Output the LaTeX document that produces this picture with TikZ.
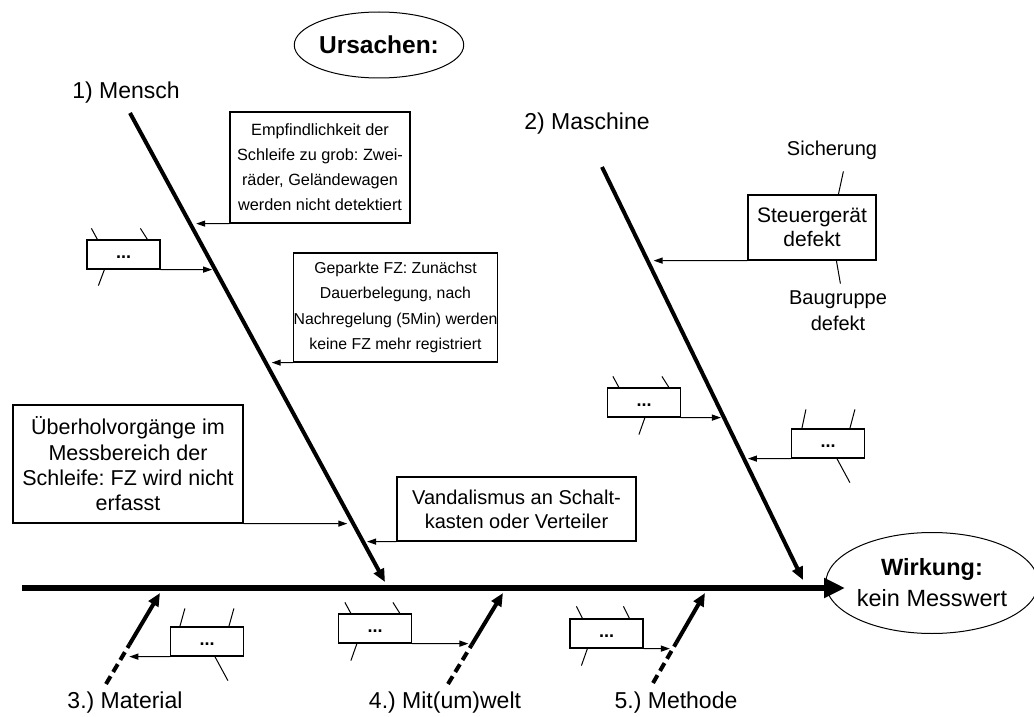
\documentclass[tikz,border=0pt]{standalone}
\usepackage{fontspec}
\setmainfont{Liberation Sans}
\frenchspacing
\usetikzlibrary{arrows.meta,calc,shapes.geometric}
\begin{document}
\begin{tikzpicture}[x=1pt,y=-1pt,
  box/.style={draw, line width=1.2pt, inner sep=0pt, align=center},
  sbox/.style={draw, line width=1.2pt, inner sep=0pt, minimum width=73pt, minimum height=29pt, font=\fontsize{18}{20}\selectfont\bfseries},
  tick/.style={line width=1pt},
  thinarrow/.style={line width=1.2pt, -{Triangle[length=9pt,width=6pt]}},
  bone/.style={line width=4pt, -{Triangle[length=13pt,width=11pt]}},
  dbone/.style={line width=4pt, dash pattern=on 9pt off 5pt},
  lbl/.style={font=\fontsize{23}{26}\selectfont},
  oval/.style={draw, ellipse, line width=1pt, inner sep=0pt, align=center}
]
\frenchspacing
\useasboundingbox (0,0) rectangle (1034,717);

% bones
\coordinate (M1) at (130,113); \coordinate (M2) at (385,582);
\coordinate (K1) at (602,167); \coordinate (K2) at (803,580);
\coordinate (S1) at (22,588);  \coordinate (S2) at (845,588);
\coordinate (T1) at (106,684); \coordinate (T2) at (160,593);
\coordinate (U1) at (448,684); \coordinate (U2) at (503,593);
\coordinate (V1) at (653,683); \coordinate (V2) at (705,593);
\coordinate (Tm) at ($(T1)!0.43!(T2)$);
\coordinate (Um) at ($(U1)!0.43!(U2)$);
\coordinate (Vm) at ($(V1)!0.45!(V2)$);

\draw[line width=6pt, -{Triangle[length=21pt,width=19pt]}] (S1) -- (S2);
\draw[bone] (M1) -- (M2);
\draw[bone] (K1) -- (K2);
\draw[dbone] (T1) -- (Tm); \draw[bone] (Tm) -- (T2);
\draw[dbone] (U1) -- (Um); \draw[bone] (Um) -- (U2);
\draw[dbone] (V1) -- (Vm); \draw[bone] (Vm) -- (V2);

% ellipses
\node[oval, minimum width=128pt, minimum height=66pt, font=\fontsize{24.5}{28}\selectfont\bfseries] (urs) at (379,45) {Ursachen:};
\node[oval, minimum width=155pt, minimum height=101pt, font=\fontsize{23.5}{31}\selectfont] (wir) at (932,583) {\textbf{Wirkung:}\\kein Messwert};

% labels
\node[lbl] (l1) at (126,93) {1) Mensch};
\node[lbl] (l2) at (587,124) {2) Maschine};
\node[lbl] (l3) at (125,703) {3.) Material};
\node[lbl] (l4) at (445,703) {4.) Mit(um)welt};
\node[lbl] (l5) at (676,703) {5.) Methode};

% text boxes on Mensch
\node[box, minimum width=180pt, minimum height=111pt, font=\fontsize{16.3}{25}\selectfont] (A) at (320,167.5)
  {Empfindlichkeit der\\Schleife zu grob: Zwei-\\räder, Geländewagen\\werden nicht detektiert};
\node[box, minimum width=195pt, minimum height=109pt, font=\fontsize{15.8}{25.3}\selectfont] (B) at (395.5,307.5)
  {Geparkte FZ: Zunächst\\Dauerbelegung, nach\\Nachregelung (5Min) werden\\keine FZ mehr registriert};
\node[box, minimum width=230pt, minimum height=118pt, font=\fontsize{21.5}{25.3}\selectfont] (C) at (128,464)
  {Überholvorgänge im\\Messbereich der\\Schleife: FZ wird nicht\\erfasst};
\node[box, minimum width=239pt, minimum height=64pt, font=\fontsize{20}{24}\selectfont] (D) at (516.5,509)
  {Vandalismus an Schalt-\\kasten oder Verteiler};

\coordinate (pA) at (intersection of M1--M2 and A.south west--A.south east);
\coordinate (pB) at (intersection of M1--M2 and B.south west--B.south east);
\coordinate (pC) at (intersection of M1--M2 and C.south west--C.south east);
\coordinate (pD) at (intersection of M1--M2 and D.south west--D.south east);
\draw[thinarrow, shorten >=6pt] (A.south west) -- (pA);
\draw[thinarrow, shorten >=6pt] (B.south west) -- (pB);
\draw[thinarrow, shorten >=6pt] (C.south east) -- (pC);
\draw[thinarrow, shorten >=4pt] (D.south west) -- (pD);

% small box on Mensch
\node[sbox] (s1) at (123.5,254.5) {\raisebox{-7pt}{...}};
\coordinate (ps1) at (intersection of M1--M2 and s1.south west--s1.south east);
\draw[thinarrow, shorten >=3pt] (s1.south east) -- (ps1);
\draw[tick] ($(s1.north west)+(5,-11)$) -- ($(s1.north west)+(11,0)$);
\draw[tick] ($(s1.north west)+(54,-11)$) -- ($(s1.north west)+(61,0)$);
\draw[tick] ($(s1.south west)+(18,0)$) -- ($(s1.south west)+(12,16)$);

% Maschine
\node[box, minimum width=128pt, minimum height=65pt, font=\fontsize{21}{24}\selectfont] (G) at (812,227.5) {Steuergerät\\defekt};
\node[font=\fontsize{20}{26}\selectfont] (si) at (832,150) {Sicherung};
\node[font=\fontsize{20}{26}\selectfont, align=center] (bg) at (838,311) {Baugruppe\\defekt};
\draw[tick] ($(G.north west)+(96,-23)$) -- ($(G.north west)+(91,0)$);
\draw[tick] ($(G.south west)+(89,0)$) -- ($(G.south west)+(93,23)$);
\coordinate (pG) at (intersection of K1--K2 and G.south west--G.south east);
\draw[thinarrow, shorten >=6pt] (G.south west) -- (pG);

\node[sbox] (m1) at (644,402.5) {\raisebox{-7pt}{...}};
\coordinate (pm1) at (intersection of K1--K2 and m1.south west--m1.south east);
\draw[thinarrow, shorten >=3pt] (m1.south east) -- (pm1);
\draw[tick] ($(m1.north west)+(6,-11)$) -- ($(m1.north west)+(12,0)$);
\draw[tick] ($(m1.north west)+(55,-11)$) -- ($(m1.north west)+(62,0)$);
\draw[tick] ($(m1.south west)+(38,0)$) -- ($(m1.south west)+(32,17)$);

\node[sbox] (m2) at (828,443.5) {\raisebox{-7pt}{...}};
\coordinate (pm2) at (intersection of K1--K2 and m2.south west--m2.south east);
\draw[thinarrow, shorten >=4pt] (m2.south west) -- (pm2);
\draw[tick] ($(m2.north west)+(15,-19)$) -- ($(m2.north west)+(11,0)$);
\draw[tick] ($(m2.north west)+(64,-19)$) -- ($(m2.north west)+(59,0)$);
\draw[tick] ($(m2.south west)+(46,0)$) -- ($(m2.south west)+(59,24)$);

% bottom small boxes
\node[sbox] (b1) at (207,641.5) {\raisebox{-7pt}{...}};
\coordinate (pb1) at (intersection of T1--T2 and b1.south west--b1.south east);
\draw[thinarrow, shorten >=7pt] (b1.south west) -- (pb1);
\draw[tick] ($(b1.north west)+(15,-18)$) -- ($(b1.north west)+(10,0)$);
\draw[tick] ($(b1.north west)+(64,-18)$) -- ($(b1.north west)+(59,0)$);
\draw[tick] ($(b1.south west)+(45,0)$) -- ($(b1.south west)+(58,24)$);

\node[sbox] (b2) at (375,628.5) {\raisebox{-7pt}{...}};
\coordinate (pb2) at (intersection of U1--U2 and b2.south west--b2.south east);
\draw[thinarrow, shorten >=4pt] (b2.south east) -- (pb2);
\draw[tick] ($(b2.north west)+(7,-11)$) -- ($(b2.north west)+(13,0)$);
\draw[tick] ($(b2.north west)+(55,-11)$) -- ($(b2.north west)+(62,0)$);
\draw[tick] ($(b2.south west)+(19,0)$) -- ($(b2.south west)+(13,17)$);

\node[sbox] (b3) at (606.5,633.5) {\raisebox{-7pt}{...}};
\coordinate (pb3) at (intersection of V1--V2 and b3.south west--b3.south east);
\draw[thinarrow, shorten >=3pt] (b3.south east) -- (pb3);
\draw[tick] ($(b3.north west)+(7,-12)$) -- ($(b3.north west)+(13,0)$);
\draw[tick] ($(b3.north west)+(54,-12)$) -- ($(b3.north west)+(60,0)$);
\draw[tick] ($(b3.south west)+(18,0)$) -- ($(b3.south west)+(12,17)$);
\end{tikzpicture}
\end{document}
